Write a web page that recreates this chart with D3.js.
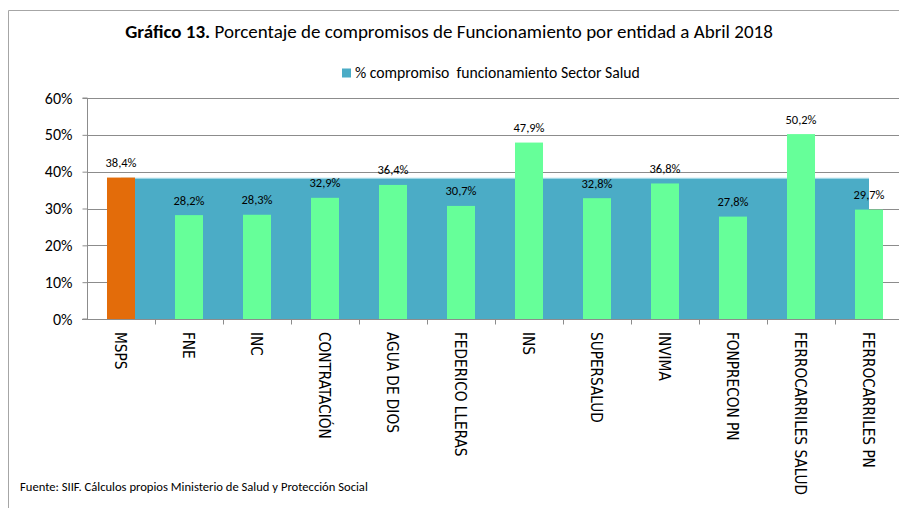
<!DOCTYPE html>
<html>
<head>
<meta charset="utf-8">
<script src="https://cdn.jsdelivr.net/npm/d3@7"></script>
<style>
  body { margin: 0; background: #fff; }
  svg { display: block; }
</style>
</head>
<body>
<div id="chart"></div>
<script>
const entidades = ["MSPS", "FNE", "INC", "CONTRATACIÓN", "AGUA DE DIOS", "FEDERICO LLERAS",
  "INS", "SUPERSALUD", "INVIMA", "FONPRECON PN", "FERROCARRILES SALUD", "FERROCARRILES PN"];
const compromiso = [0.384, 0.282, 0.283, 0.329, 0.364, 0.307, 0.479, 0.328, 0.368, 0.278, 0.502, 0.297];
const sectorSalud = 0.382;
const yTicks = [0, 0.1, 0.2, 0.3, 0.4, 0.5, 0.6];

const width = 899;
const height = 508;
const calibri = "Carlito, Lato, sans-serif";
const narrow = "'Liberation Sans Narrow', 'DejaVu Sans Condensed', sans-serif";

const orange = "#E36C0A";
const green = "#66FF99";
const blue = "#4BACC6";
const gridColor = "#8c8c8c";

const svg = d3.select("#chart").append("svg")
  .attr("width", width)
  .attr("height", height);

// outer frame
svg.append("path")
  .attr("d", `M8.5,${height + 2} V10.5 H${width + 2}`)
  .attr("fill", "none")
  .attr("stroke", "#a6a6a6")
  .attr("stroke-width", 1);

/* Scales */
const x = d3.scaleBand()
  .domain(entidades)
  .range([87, 903])
  .paddingInner(0.588)
  .paddingOuter(0.294);

const xStep = d3.scaleBand().domain(entidades).range([87, 903]).padding(0);

const y = d3.scaleLinear().domain([0, 0.6]).range([319, 98]);

/* Gridlines */
svg.append("g")
  .selectAll("line")
  .data(yTicks.slice(1))
  .join("line")
  .attr("x1", 87)
  .attr("x2", width)
  .attr("y1", (d) => Math.round(y(d)) + 0.5)
  .attr("y2", (d) => Math.round(y(d)) + 0.5)
  .attr("stroke", gridColor);

/* Sector area (behind the bars) */
const area = d3.area()
  .x((d) => xStep(d) + xStep.bandwidth() / 2)
  .y0(y(0))
  .y1(y(sectorSalud));

svg.append("path")
  .datum(entidades)
  .attr("d", area)
  .attr("fill", blue);

svg.append("line")
  .attr("x1", xStep(entidades[0]) + xStep.bandwidth() / 2)
  .attr("x2", xStep(entidades[entidades.length - 1]) + xStep.bandwidth() / 2)
  .attr("y1", y(sectorSalud))
  .attr("y2", y(sectorSalud))
  .attr("stroke", "#9fd6e4")
  .attr("stroke-width", 1.2);

/* Bars */
svg.append("g")
  .selectAll("rect")
  .data(compromiso)
  .join("rect")
  .attr("x", (d, i) => x(entidades[i]))
  .attr("y", (d) => y(d))
  .attr("width", x.bandwidth())
  .attr("height", (d) => y(0) - y(d))
  .attr("fill", (d, i) => (i === 0 ? orange : green));

/* Data labels */
svg.append("g")
  .selectAll("text")
  .data(compromiso)
  .join("text")
  .attr("x", (d, i) => x(entidades[i]) + x.bandwidth() / 2)
  .attr("y", (d) => y(d) - 10.5)
  .attr("text-anchor", "middle")
  .style("font-family", calibri)
  .style("font-size", "12.5px")
  .style("fill", "#000")
  .text((d) => (d * 100).toFixed(1).replace(".", ",") + "%");

/* Y axis */
const yAxis = d3.axisLeft(y)
  .tickValues(yTicks)
  .tickSize(5)
  .tickPadding(10)
  .tickFormat((d) => Math.round(d * 100) + "%");

const gy = svg.append("g")
  .attr("transform", "translate(87.5,0)")
  .call(yAxis);
gy.select(".domain").attr("stroke", gridColor).attr("d", `M-5,${y(0.6)}H0V${y(0)}H-5`);
gy.selectAll(".tick line").attr("stroke", gridColor);
gy.selectAll(".tick text")
  .style("font-family", calibri)
  .style("font-size", "16px")
  .style("fill", "#000");

/* X axis */
svg.append("line")
  .attr("x1", 82)
  .attr("x2", width)
  .attr("y1", y(0) + 0.5)
  .attr("y2", y(0) + 0.5)
  .attr("stroke", gridColor);

svg.append("g")
  .selectAll("line")
  .data(entidades.slice(1))
  .join("line")
  .attr("x1", (d) => Math.round(xStep(d)) + 0.5)
  .attr("x2", (d) => Math.round(xStep(d)) + 0.5)
  .attr("y1", y(0))
  .attr("y2", y(0) + 5.5)
  .attr("stroke", gridColor);

svg.append("g")
  .selectAll("text")
  .data(entidades)
  .join("text")
  .attr("transform", (d) => `translate(${xStep(d) + xStep.bandwidth() / 2 - 0.5},332) rotate(90)`)
  .attr("dy", "0.35em")
  .attr("text-anchor", "start")
  .style("font-family", narrow)
  .style("font-size", "15.2px")
  .style("fill", "#000")
  .text((d) => d);

/* Title */
const title = svg.append("text")
  .attr("x", 449)
  .attr("y", 38)
  .attr("text-anchor", "middle")
  .style("font-family", calibri)
  .style("font-size", "19px")
  .style("fill", "#000");
title.append("tspan").style("font-weight", "bold").text("Gráfico 13.");
title.append("tspan").text(" Porcentaje de compromisos de Funcionamiento por entidad a Abril 2018");

/* Legend */
svg.append("rect")
  .attr("x", 342)
  .attr("y", 68.5)
  .attr("width", 9)
  .attr("height", 9)
  .attr("fill", blue);

svg.append("text")
  .attr("x", 355)
  .attr("y", 78)
  .style("font-family", calibri)
  .style("font-size", "15.7px")
  .style("white-space", "pre")
  .attr("xml:space", "preserve")
  .style("fill", "#000")
  .text("% compromiso  funcionamiento Sector Salud");

/* Source */
svg.append("text")
  .attr("x", 20)
  .attr("y", 491)
  .style("font-family", calibri)
  .style("font-size", "12.6px")
  .style("fill", "#000")
  .text("Fuente: SIIF. Cálculos propios Ministerio de Salud y Protección Social");
</script>
</body>
</html>
